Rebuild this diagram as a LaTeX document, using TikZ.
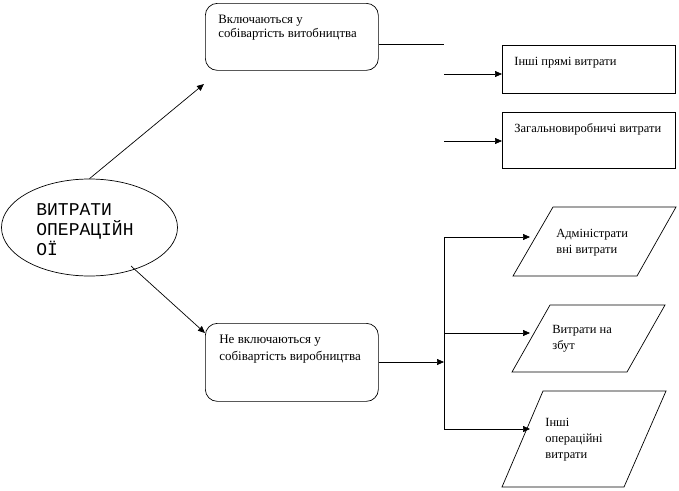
\documentclass[tikz,border=0pt]{standalone}
\usepackage{fontspec}
\setmainfont{Liberation Serif}
\newfontfamily\monofont{Liberation Mono}
\usetikzlibrary{shapes.geometric}
\usetikzlibrary{arrows.meta}

\tikzset{
	rbox/.style={draw, rounded corners=12pt, anchor=north west, minimum width=173pt, inner sep=0pt},
	sbox/.style={draw, anchor=north west, minimum width=173pt, inner sep=0pt},
	txt/.style={anchor=north west, align=left, inner sep=0pt, font=\fontsize{12.5}{16}\selectfont},
	arr/.style={-{Triangle[length=7pt,width=6pt]}},
}

\begin{document}
\begin{tikzpicture}[x=1pt,y=-1pt,line width=0.7pt]
	\useasboundingbox (0,0) rectangle (679,490);
	% boxes
	\node[draw, ellipse, minimum width=176pt, minimum height=97pt, inner sep=0pt] (costs) at (89.5,227.5) {};
	\node[anchor=north west, align=left, inner sep=0pt, font=\monofont\fontsize{18}{20}\selectfont] (costsTxt) at (36,203) {ВИТРАТИ\\ОПЕРАЦІЙН\\ОЇ};
	\node[rbox, minimum height=67pt] (top) at (205,3) {};
	\node[txt, font=\fontsize{12.8}{13.5}\selectfont] (topTxt) at (218,15) {Включаються у\\собівартість витобництва};
	\node[rbox, minimum height=78pt] (low) at (205,323) {};
	\node[txt, font=\fontsize{13}{17}\selectfont] (lowTxt) at (219,335) {Не включаються у\\собівартість виробництва};
	\node[sbox, minimum height=48pt] (direct) at (502,45) {};
	\node[txt] (directTxt) at (514,57) {Інші прямі витрати};
	\node[sbox, minimum height=56pt] (overhead) at (502,112) {};
	\node[txt] (overheadTxt) at (514,123) {Загальновиробничі витрати};
	% parallelograms
	\draw (553,207)--(676,207)--(637,276)--(513,276)--cycle;
	\node[txt] (admTxt) at (556,229) {Адміністрати\\вні витрати};
	\draw (550,305)--(665,305)--(627,372)--(512,372)--cycle;
	\node[txt] (salesTxt) at (552,325) {Витрати на\\збут};
	\draw (543,391)--(666,391)--(624,487)--(502,487)--cycle;
	\node[txt] (otherTxt) at (545,418) {Інші\\операційні\\витрати};
	% connectors
	\coordinate (upEnd) at (204,84);
	\coordinate (downStart) at (131,266);
	\coordinate (lowIn) at (205,333);
	\coordinate (midTop) at (444,44);
	\coordinate (directIn) at (502,74);
	\coordinate (overheadIn) at (502,141);
	\coordinate (hub) at (444,362);
	\coordinate (admIn) at (530,237);
	\coordinate (salesIn) at (530,333);
	\coordinate (otherIn) at (530,429);
	\draw[arr] (costs.north) -- (upEnd);
	\draw[arr] (downStart) -- (lowIn);
	\draw (top.east |- midTop) -- (midTop);
	\draw[arr] (midTop |- directIn) -- (directIn);
	\draw[arr] (midTop |- overheadIn) -- (overheadIn);
	\draw[arr] (low.east |- hub) -- (hub);
	\draw (hub |- admIn) -- (hub |- otherIn);
	\draw[arr] (hub |- admIn) -- (admIn);
	\draw[arr] (hub |- salesIn) -- (salesIn);
	\draw[arr] (hub |- otherIn) -- (otherIn);
\end{tikzpicture}
\end{document}
